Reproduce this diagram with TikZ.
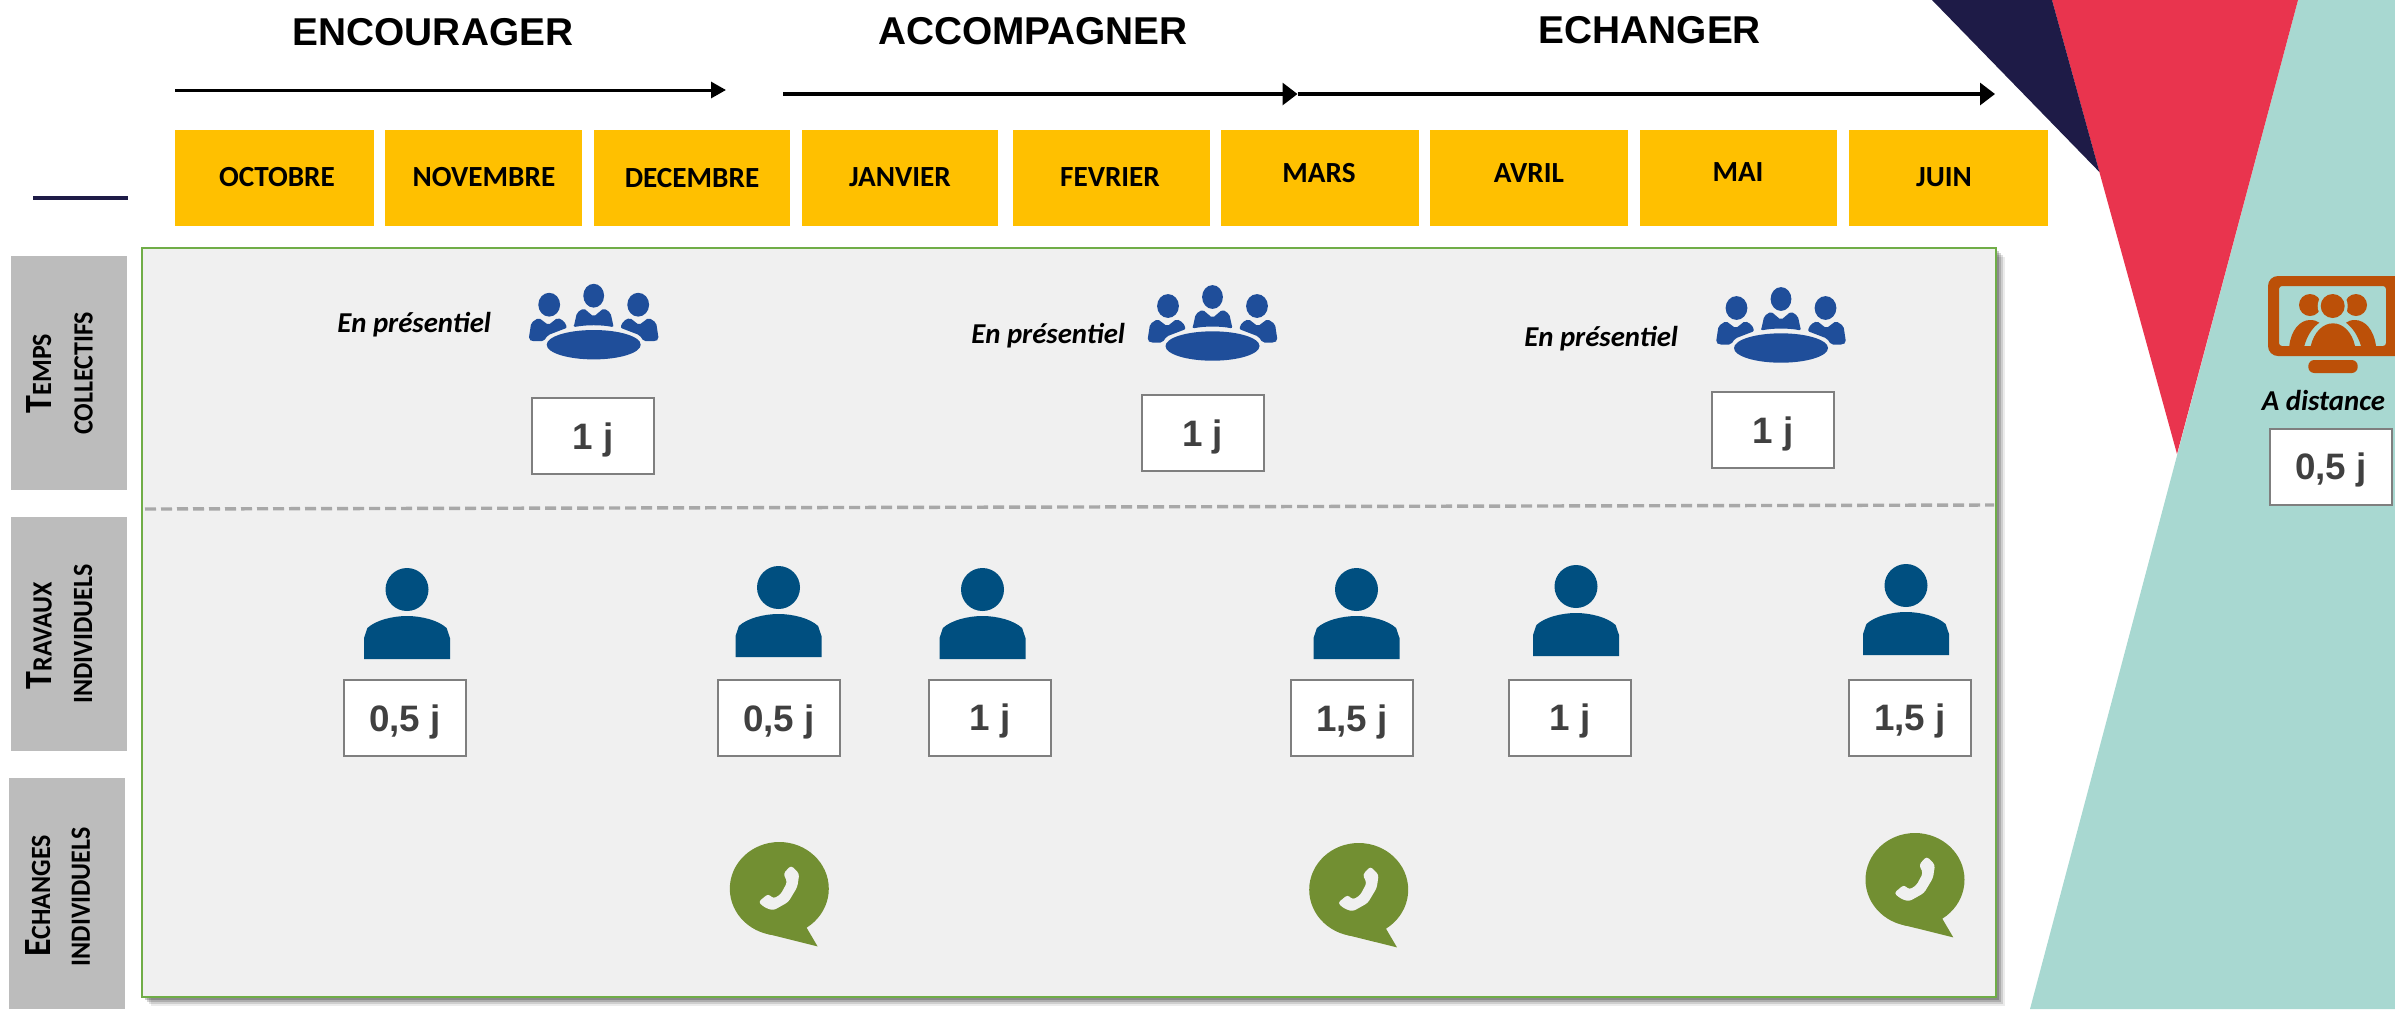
\documentclass[tikz,border=0pt]{standalone}
\usepackage{fontspec}
\setmainfont{Liberation Sans}
\newfontfamily\calib{Carlito}
\usetikzlibrary{arrows.meta}
\definecolor{navy}{HTML}{1E1B47}
\definecolor{redtri}{HTML}{E9344E}
\definecolor{tealtri}{HTML}{A8D8D1}
\definecolor{monthfill}{HTML}{FFC000}
\definecolor{framegreen}{HTML}{70AD47}
\definecolor{framefill}{HTML}{F0F0F0}
\definecolor{sidegray}{HTML}{BCBCBC}
\definecolor{dashgray}{HTML}{A8A8A8}
\definecolor{boxline}{HTML}{7F7F7F}
\definecolor{durtext}{HTML}{404040}
\definecolor{personblue}{HTML}{004F80}
\definecolor{meetblue}{HTML}{1F4E9A}
\definecolor{phonegreen}{HTML}{728F32}
\definecolor{screenrust}{HTML}{BC5008}
\newcommand{\capfirst}[2]{\scalebox{1}[1.07]{{\fontsize{18}{18}\selectfont #1}#2}}
\tikzset{
  titletext/.style={anchor=base,inner sep=0pt,font=\fontsize{19.4}{20}\selectfont\bfseries},
  monthtext/.style={anchor=base,inner sep=0pt,font=\calib\fontsize{14.6}{15}\selectfont\bfseries},
  sidetext/.style={rotate=90,anchor=base,inner sep=0pt,font=\calib\fontsize{13}{13}\selectfont\bfseries},
  modetext/.style={anchor=base west,inner sep=0pt,font=\calib\fontsize{14.4}{15}\selectfont\bfseries\itshape},
  durbox/.style={draw=boxline,fill=white,line width=1pt,minimum width=61pt,minimum height=38pt,inner sep=0pt,outer sep=0pt,
    text=durtext,text height=14pt,text depth=1pt,font=\fontsize{18.4}{19}\selectfont\bfseries},
  bigarrow/.style={line width=1.6pt,-{Triangle[length=7.5pt,width=11pt]}},
  smallarrow/.style={line width=1.5pt,-{Triangle[length=7.5pt,width=8pt]}},
  personpic/.pic={
    \fill[personblue] (0,21.5) ellipse [x radius=21.5,y radius=21.5];
    \fill[personblue] (-43,91) -- (-43,70) -- (-39.6,60) .. controls (-31,52) and (-14,48) .. (0,48)
      .. controls (14,48) and (31,52) .. (39.6,60) -- (43,70) -- (43,91) -- cycle;
  },
  meetingpic/.pic={
    \fill[meetblue] (0,0) ellipse [x radius=47,y radius=14.7];
    \fill[meetblue] (0,-49) ellipse [x radius=10.4,y radius=11.9];
    \fill[meetblue] (-44.5,-40) ellipse [x radius=10.9,y radius=11.9];
    \fill[meetblue] (44.5,-40) ellipse [x radius=10.9,y radius=11.9];
    \fill[meetblue,rounded corners=1pt] (-20,-17.5) -- (-16.8,-32) -- (-10,-36.5) -- (0,-28) -- (10,-36.5)
      -- (16.8,-32) -- (20,-17.5) .. controls (8,-20) and (-8,-20) .. cycle;
    \fill[meetblue,rounded corners=1pt] (-65,-5.5) -- (-62.5,-22) -- (-55,-27) -- (-45.3,-19.7) -- (-36,-27)
      -- (-29.5,-23.5) -- (-26.5,-17) -- (-46,-9.5) -- (-50,-3.5) -- (-62,-3.5) -- cycle;
    \fill[meetblue,rounded corners=1pt] (65,-5.5) -- (62.5,-22) -- (55,-27) -- (45.3,-19.7) -- (36,-27)
      -- (29.5,-23.5) -- (26.5,-17) -- (46,-9.5) -- (50,-3.5) -- (62,-3.5) -- cycle;
  },
  phonepic/.pic={
    \fill[phonegreen] (0,0) ellipse [x radius=49.5,y radius=46.7];
    \fill[phonegreen] (30,15) -- (27.3,39) -- (38.3,57.7) -- (-12.7,45) -- (-35,30) -- cycle;
    \fill[framefill,rounded corners=1.5pt] (11.7,-23.3) -- (20,-15) -- (18,-1.7) -- (9,13.3) -- (-6,21.7) -- (-14.3,19)
      -- (-21,13.3) -- (-11,5) -- (-6,10) -- (1.3,5.7) -- (8,-6.7) -- (4,-15) -- cycle;
  },
}
\begin{document}
\begin{tikzpicture}[x=0.5pt,y=-0.5pt]
\useasboundingbox (0,0) rectangle (2395,1009);

% background wedges
\fill[tealtri] (2298,0) -- (2395,0) -- (2395,1009) -- (2030,1009) -- cycle;
\fill[redtri] (2052,0) -- (2298,0) -- (2177,454) -- cycle;
\fill[navy] (1932,0) -- (2052,0) -- (2099.4,172) -- cycle;

% top phase titles
\node[titletext] (ttA) at (433,45) {ENCOURAGER};
\node[titletext] (ttB) at (1033,44) {ACCOMPAGNER};
\node[titletext] (ttC) at (1650,43) {ECHANGER};

% arrows
\coordinate (a0) at (175,90);
\coordinate (a1) at (726,90);
\coordinate (b0) at (783,94);
\coordinate (b1) at (1297.5,94);
\coordinate (c1) at (1995,94);
\draw[smallarrow] (a0) -- (a1);
\draw[bigarrow] (b0) -- (b1);
\draw[bigarrow] (b1) -- (c1);

% months
\foreach \nm/\xa/\xb/\lab/\xc/\yb in {
  1/175/374/OCTOBRE/277/186, 2/385/582/NOVEMBRE/484/186, 3/594/790/DECEMBRE/692/187,
  4/802/998/JANVIER/900/186, 5/1013/1210/FEVRIER/1110/186, 6/1221/1419/MARS/1319/182,
  7/1430/1628/AVRIL/1529/182, 8/1640/1837/MAI/1738/181, 9/1849/2048/JUIN/1944/186}{
  \fill[monthfill] (\xa,130) rectangle (\xb,226);
  \node[monthtext] (month\nm) at (\xc,\yb) {\lab};
}

% short dark rule
\coordinate (ruleA) at (33,198);
\coordinate (ruleB) at (128,198);
\draw[navy,line width=2pt] (ruleA) -- (ruleB);

% side labels
\fill[sidegray] (11,256) rectangle (127,490);
\fill[sidegray] (11,517) rectangle (127,751);
\fill[sidegray] (9,778) rectangle (125,1009);
\node[sidetext] (s1a) at (51,373.4) {\capfirst{T}{EMPS}};
\node[sidetext] (s1b) at (92.5,373.4) {\capfirst{}{COLLECTIFS}};
\node[sidetext] (s2a) at (51.5,635.5) {\capfirst{T}{RAVAUX}};
\node[sidetext] (s2b) at (92,634) {\capfirst{}{INDIVIDUELS}};
\node[sidetext] (s3a) at (50,896) {\capfirst{E}{CHANGES}};
\node[sidetext] (s3b) at (90,896.7) {\capfirst{}{INDIVIDUELS}};

% main frame with soft shadow
\foreach \o/\op in {9/.08,7/.12,5/.16,3/.2}{
  \fill[black,opacity=\op] (142+\o,248+\o) rectangle (1996+\o,997+\o);
}
\draw[framegreen,fill=framefill,line width=1pt] (142,248) rectangle (1996,997);

% dashed separator
\coordinate (dashA) at (145,509);
\coordinate (dashB) at (1994,505);
\draw[dashgray,line width=1.7pt,dash pattern=on 5.5pt off 2.5pt] (dashA) -- (dashB);

% collective sessions
\node[modetext] (mode1) at (337,332.5) {En présentiel};
\node[modetext] (mode2) at (971,343) {En présentiel};
\node[modetext] (mode3) at (1524,346) {En présentiel};
\pic at (593.7,344.7) {meetingpic};
\pic at (1212.5,346) {meetingpic};
\pic at (1781,348) {meetingpic};
\node[durbox] (t1) at (593,436) {1 j};
\node[durbox] (t2) at (1202.5,433) {1 j};
\node[durbox] (t3) at (1773,430) {1 j};

% individual work
\pic at (407,568) {personpic};
\pic at (778.5,566) {personpic};
\pic at (982.5,568) {personpic};
\pic at (1356.5,568) {personpic};
\pic at (1576,565) {personpic};
\pic at (1906,564) {personpic};
\node[durbox] (w1) at (405,718) {0,5 j};
\node[durbox] (w2) at (779,718) {0,5 j};
\node[durbox] (w3) at (990,717.5) {1 j};
\node[durbox] (w4) at (1352,718) {1,5 j};
\node[durbox] (w5) at (1570,717.5) {1 j};
\node[durbox] (w6) at (1910,717.5) {1,5 j};

% phone bubbles
\pic at (779.3,888.7) {phonepic};
\pic at (1358.7,889.7) {phonepic};
\pic at (1915,879.7) {phonepic};

% remote session icon
\fill[screenrust,even odd rule] [rounded corners=5pt] (2268,276) rectangle (2405,356)
  [rounded corners=1.5pt] (2279,286) rectangle (2386,346);
\fill[screenrust,rounded corners=3pt] (2308.3,373) -- (2308.3,360) -- (2357.7,360) -- (2357.7,373) -- cycle;
\begin{scope}
\clip (2260,270) rectangle (2395,380);
\fill[screenrust] (2310,305) circle [radius=11];
\fill[screenrust] (2356,305) circle [radius=11];
\fill[tealtri] (2332.7,306) circle [radius=15];
\fill[screenrust] (2332.7,306) circle [radius=12];
\fill[screenrust] (2289.3,346) .. controls (2291,330) and (2300,320) .. (2310,320)
  .. controls (2314,320) and (2317,321) .. (2319.3,322.7)
  .. controls (2312,328) and (2307,336) .. (2304.3,346) -- cycle;
\fill[screenrust] (2376,346) .. controls (2374,330) and (2365,320) .. (2355,320)
  .. controls (2351,320) and (2348,321) .. (2346,322.7)
  .. controls (2353,328) and (2358,336) .. (2361,346) -- cycle;
\fill[screenrust] (2310.7,346) .. controls (2314,332) and (2323,323.3) .. (2333,323.3)
  .. controls (2343,323.3) and (2352,332) .. (2355,346) -- cycle;
\end{scope}
\node[modetext,anchor=base] (remote) at (2323.5,410) {A distance};
\node[durbox] (r1) at (2331,466.5) {0,5 j};
\end{tikzpicture}
\end{document}
